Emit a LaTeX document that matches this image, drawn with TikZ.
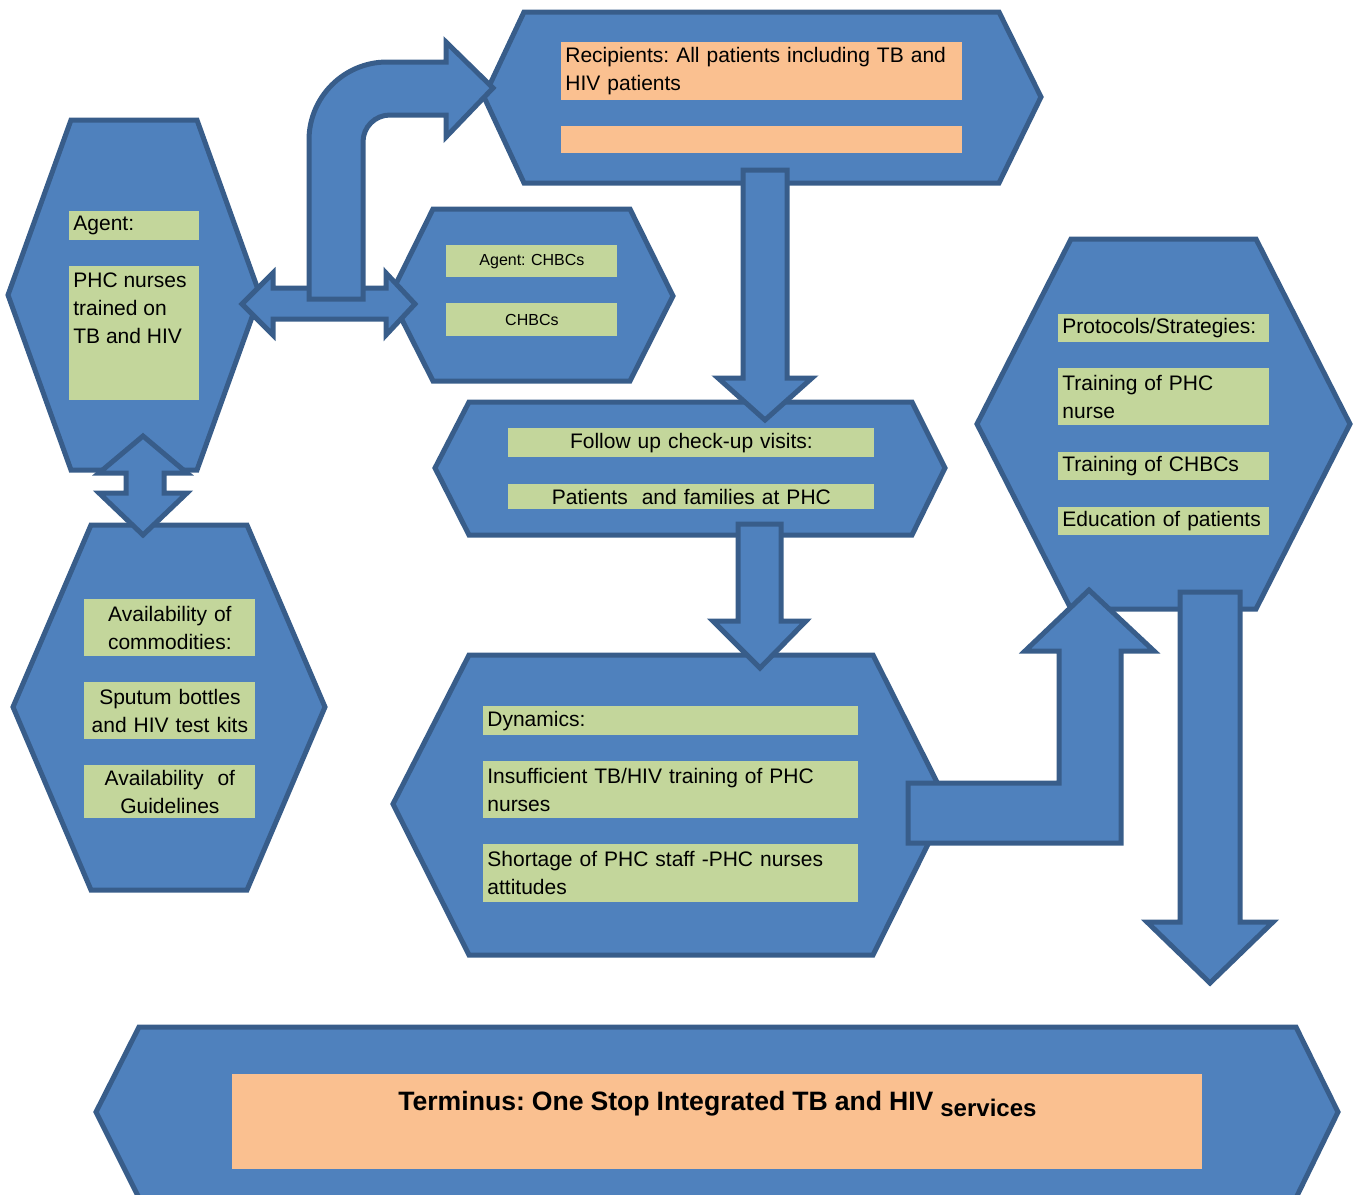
\documentclass[tikz,border=0pt]{standalone}
\usepackage{fontspec}
\setmainfont{Liberation Sans}
\usepackage{tikz}
\usepackage{xcolor}
\definecolor{hexblue}{HTML}{4F81BD}
\definecolor{hexline}{HTML}{385D8A}
\definecolor{boxgreen}{HTML}{C3D69B}
\definecolor{boxpeach}{HTML}{FAC090}
\frenchspacing

\begin{document}
\begin{tikzpicture}[x=0.5pt,y=-0.5pt]%
  \tikzstyle{hexa}=[fill=hexblue,draw=hexline,line width=2.5pt]
  \tikzstyle{barrow}=[fill=hexblue,draw=hexline,line width=2.5pt]
  \tikzstyle{gbox}=[fill=boxgreen,anchor=north west,inner xsep=2pt,inner ysep=0pt,font=\fontsize{10.5}{14}\selectfont]
  \tikzstyle{gleft}=[gbox,align=left]
  \tikzstyle{gmid}=[gbox,align=center]
  \tikzstyle{pbox}=[gleft,fill=boxpeach]
  \clip (0,0) rectangle (1357,1195);
  % hexagons
  \draw[hexa] (71,120) -- (197,120) -- (260,295) -- (197,470) -- (71,470) -- (8,295) -- cycle;
  \draw[hexa] (91,525) -- (247,525) -- (325,707) -- (247,890) -- (91,890) -- (13,707) -- cycle;
  \draw[hexa] (524,12) -- (999,12) -- (1041,97) -- (999,183) -- (524,183) -- (484,97) -- cycle;
  \draw[hexa] (433,209) -- (630,209) -- (673,296) -- (630,381) -- (433,381) -- (390,296) -- cycle;
  \draw[hexa] (469,402) -- (912,402) -- (945,468) -- (912,535) -- (469,535) -- (435,468) -- cycle;
  \draw[hexa] (469,655) -- (873,655) -- (948,804) -- (873,955) -- (469,955) -- (393,804) -- cycle;
  \draw[hexa] (1071,239) -- (1256,239) -- (1350,424) -- (1256,609) -- (1071,609) -- (977,424) -- cycle;
  \draw[hexa] (139,1027) -- (1296,1027) -- (1338,1112) -- (1295,1200) -- (140,1200) -- (96,1112) -- cycle;
  % text boxes
  \node[gleft,text width=61pt,minimum height=14.5pt] (agentA) at (69,211) {Agent:};
  \node[gbox,text height=10.5pt,text depth=56.5pt] (agentB) at (69,266)
    {\parbox[t]{61pt}{PHC nurses\\trained on\\TB and HIV}};
  \node[gmid,text width=81.5pt,minimum height=28.5pt] (comA) at (84,599) {Availability of\\commodities:};
  \node[gmid,text width=81.5pt,minimum height=28.5pt] (comB) at (84,682) {Sputum bottles\\and HIV test kits};
  \node[gmid,text width=81.5pt,minimum height=26.5pt] (comC) at (84,765) {Availability\ \ of\\Guidelines};
  \node[gmid,text width=81.5pt,minimum height=16pt,font=\fontsize{8}{10}\selectfont] (chbcA) at (446,245) {Agent: CHBCs};
  \node[gmid,text width=81.5pt,minimum height=16.5pt,font=\fontsize{8}{10}\selectfont] (chbcB) at (446,303) {CHBCs};
  \node[pbox,text width=196.5pt,minimum height=29pt] (recA) at (561,42) {Recipients: All patients including TB and\\HIV patients};
  \node[pbox,text width=196.5pt,minimum height=13.5pt] (recB) at (561,126) {};
  \node[gmid,text width=179pt,minimum height=14.5pt] (fupA) at (508,428) {Follow up check-up visits:};
  \node[gmid,text width=179pt,minimum height=12.5pt] (fupB) at (508,484) {Patients\ \ and families at PHC};
  \node[gleft,text width=183.5pt,minimum height=14.5pt] (dynA) at (483,706) {Dynamics:};
  \node[gleft,text width=183.5pt,minimum height=28.5pt] (dynB) at (483,761) {Insufficient TB/HIV training of PHC\\nurses};
  \node[gleft,text width=183.5pt,minimum height=29pt] (dynC) at (483,844) {Shortage of PHC staff -PHC nurses\\attitudes};
  \node[gleft,text width=101.5pt,minimum height=14pt] (proA) at (1058,314) {Protocols/Strategies:};
  \node[gleft,text width=101.5pt,minimum height=28.5pt] (proB) at (1058,368) {Training of PHC\\nurse};
  \node[gleft,text width=101.5pt,minimum height=14pt] (proC) at (1058,452) {Training of CHBCs};
  \node[gleft,text width=101.5pt,minimum height=14pt] (proD) at (1058,507) {Education of patients};
  \node[gmid,fill=boxpeach,text width=481pt,text height=18pt,text depth=29.5pt] (term) at (232,1074)
    {\fontsize{13.3}{16}\selectfont\bfseries Terminus: One Stop Integrated TB and HIV \raisebox{-3pt}{\fontsize{12}{14}\selectfont services}};
  % block arrows
  \draw[barrow] (143,436) -- (187,473) -- (164,473) -- (164,493) -- (187,493) -- (143,535)
    -- (99,493) -- (126,493) -- (126,473) -- (99,473) -- cycle;
  \draw[barrow] (242,304) -- (273,273) -- (273,288) -- (386,288) -- (386,273) -- (415,304)
    -- (386,335) -- (386,319) -- (273,319) -- (273,335) -- cycle;
  \draw[barrow] (309,299) -- (309,140) .. controls (309,97) and (344,62) .. (387,62) -- (446,62)
    -- (446,42) -- (493,88) -- (446,137) -- (446,115) -- (390,115)
    .. controls (375,115) and (363,127) .. (363,142) -- (363,299) -- cycle;
  \draw[barrow] (743,170) -- (787,170) -- (787,378) -- (812,378) -- (765,420) -- (718,378) -- (743,378) -- cycle;
  \draw[barrow] (738,524) -- (781,524) -- (781,621) -- (806,621) -- (760,668) -- (713,621) -- (738,621) -- cycle;
  \draw[barrow] (908,783) -- (1059,783) -- (1059,651) -- (1025,651) -- (1089,590) -- (1154,651)
    -- (1121,651) -- (1121,843) -- (908,843) -- cycle;
  \draw[barrow] (1180,592) -- (1240,592) -- (1240,922) -- (1273,922) -- (1210,983) -- (1147,922) -- (1180,922) -- cycle;
\end{tikzpicture}
\end{document}
